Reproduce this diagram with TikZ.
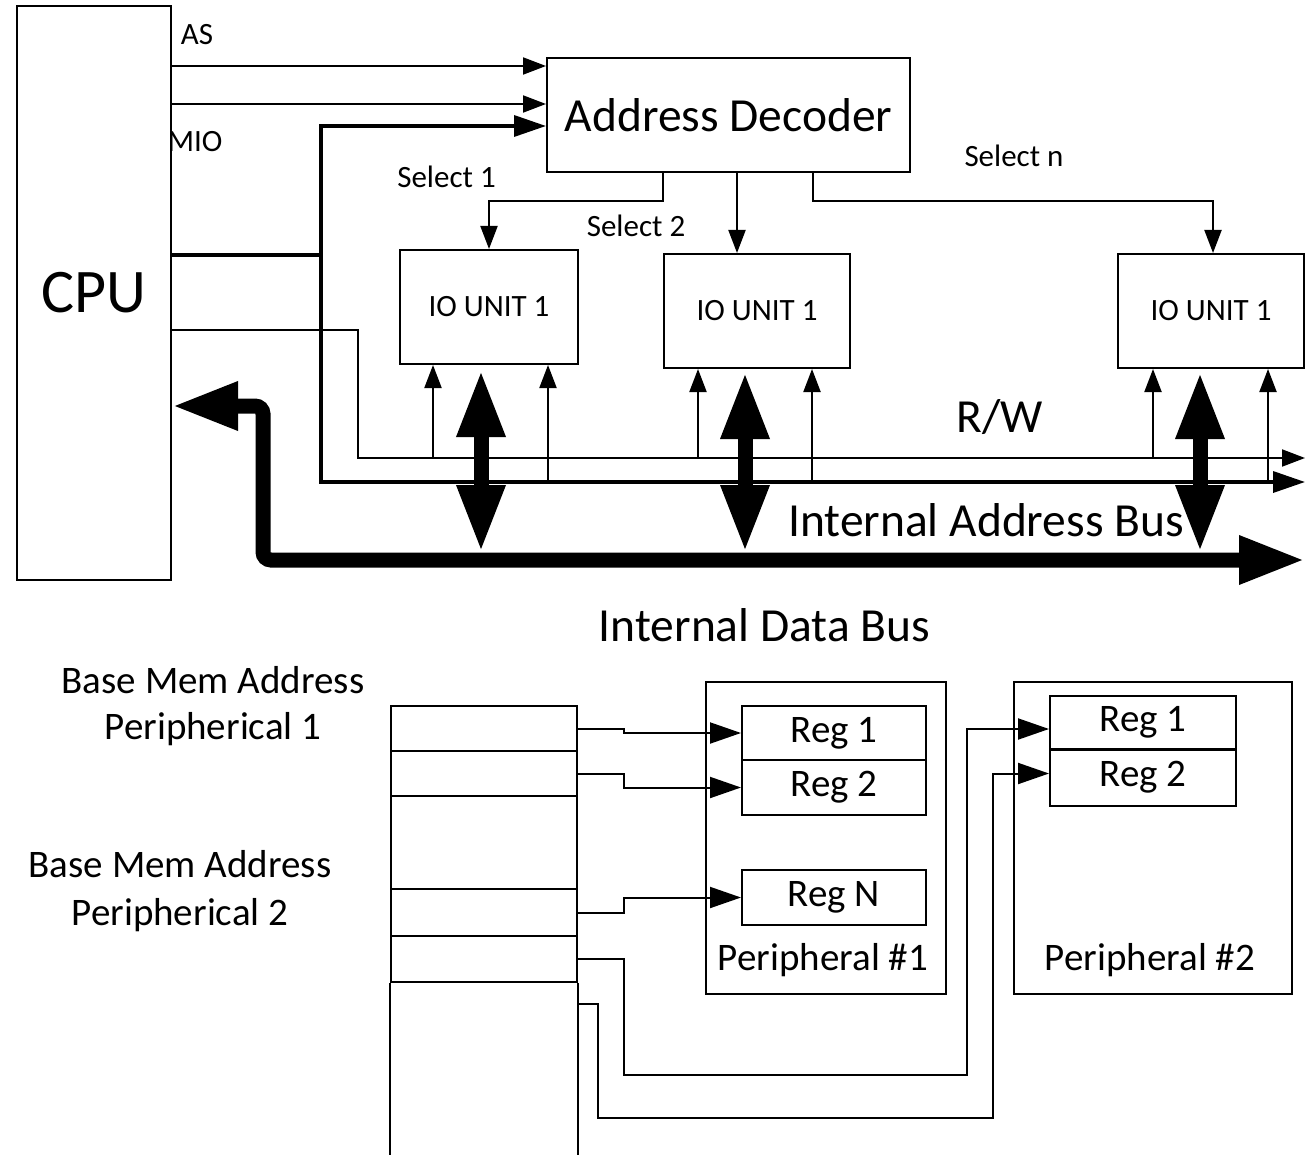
\documentclass[tikz,border=0pt]{standalone}
\usepackage{fontspec}
\setmainfont{Carlito}
\usetikzlibrary{arrows.meta}
\newcommand\fCPU{\fontsize{62}{70}\selectfont}
\newcommand\fLg{\fontsize{47.5}{54}\selectfont}
\newcommand\fSm{\fontsize{31}{36}\selectfont}
\newcommand\fMd{\fontsize{39}{44}\selectfont}
\begin{document}
\begin{tikzpicture}[x=1pt,y=-1pt,
  box/.style={draw, line width=2pt, inner sep=0pt, anchor=center},
  wire/.style={line width=2pt},
  bus/.style={line width=3.5pt},
  sarrow/.style={wire, -{Triangle[length=23pt,width=17pt]}},
  barrow/.style={bus, -{Triangle[length=32pt,width=21pt]}},
  rarrow/.style={wire, -{Triangle[length=31pt,width=21pt]}},
  dbl/.style={line width=15pt, {Triangle[length=67pt,width=45pt]}-{Triangle[length=67pt,width=45pt]}},
  databus/.style={line width=15pt, rounded corners=8pt, {Triangle[length=66pt,width=45pt]}-{Triangle[length=66pt,width=45pt]}},
  lbl/.style={inner sep=0pt, anchor=base}
]
\useasboundingbox (0,0) rectangle (1308,1155);
\fill[white] (0,0) rectangle (1308,1155);

% ---------- upper part ----------
\node[box, minimum width=154pt, minimum height=574pt, font=\fCPU] (cpu) at (94,293) {CPU};
\node[box, minimum width=363pt, minimum height=114pt, font=\fLg] (ad) at (728.5,115) {Address Decoder};
\node[box, minimum width=178pt, minimum height=114pt, font=\fSm] (io1) at (489,307) {IO UNIT 1};
\node[box, minimum width=186pt, minimum height=114pt, font=\fSm] (io2) at (757,311) {IO UNIT 1};
\node[box, minimum width=186pt, minimum height=114pt, font=\fSm] (io3) at (1211,311) {IO UNIT 1};

\node[lbl, font=\fSm] (las) at (197,45) {AS};
\node[lbl, font=\fSm] (lmio) at (195,152) {MIO};
\node[lbl, font=\fSm] (ls1) at (446.5,188) {Select 1};
\node[lbl, font=\fSm] (ls2) at (636,237) {Select 2};
\node[lbl, font=\fSm] (lsn) at (1014,167) {Select n};
\node[lbl, font=\fLg] (lrw) at (1000,432) {R/W};
\node[lbl, font=\fLg] (liab) at (986,536) {Internal Address Bus};
\node[lbl, font=\fLg] (lidb) at (764.5,641) {Internal Data Bus};

% CPU -> decoder
\coordinate (as0) at (171,66);
\coordinate (mio0) at (171,104);
\draw[sarrow] (as0) -- (as0 -| ad.west);
\draw[sarrow] (mio0) -- (mio0 -| ad.west);
\coordinate (ab0) at (171,255);
\coordinate (abj) at (321,255);
\coordinate (abend) at (1305,482);
\draw[bus] (ab0) -- (abj);
\draw[barrow] (abj) |- ([yshift=-11pt]ad.west);
\draw[barrow] (abj) |- (abend);
% R/W line
\coordinate (rw0) at (171,330);
\coordinate (rwend) at (1305,458);
\draw[sarrow] (rw0) -- (358,330) |- (rwend);

% select lines
\draw[sarrow] ([xshift=-65.5pt]ad.south) -- ++(0,28) -| (io1.north);
\draw[sarrow] ([xshift=8.5pt]ad.south) -- ([xshift=-20pt]io2.north);
\draw[sarrow] ([xshift=84.5pt]ad.south) -- ++(0,28) -| ([xshift=2pt]io3.north);

% taps from R/W and address bus
\foreach \n/\a/\b in {io1/433/548, io2/698/812, io3/1153/1268}{
  \draw[sarrow] (\a,458) -- (\a,458 |- \n.south);
  \draw[sarrow] (\b,482) -- (\b,482 |- \n.south);
}

% data bus
\coordinate (dbR) at (1305,560);
\draw[databus] ([yshift=-113pt]cpu.east) -- (263,406) -- (263,560) -- (dbR);

% bidirectional data links
\coordinate (db1) at (481,552);
\coordinate (db2) at (745,552);
\coordinate (db3) at (1200,552);
\draw[dbl] ([xshift=-8pt,yshift=-5pt]io1.south) -- (db1);
\draw[dbl] ([xshift=-12pt,yshift=-3pt]io2.south) -- (db2);
\draw[dbl] ([xshift=-11pt,yshift=-3pt]io3.south) -- (db3);

% ---------- lower part ----------
\node[lbl, font=\fMd] (b1a) at (213,693) {Base Mem Address};
\node[lbl, font=\fMd] (b1b) at (213,739) {Peripherical 1};
\node[lbl, font=\fMd] (b2a) at (180,877) {Base Mem Address};
\node[lbl, font=\fMd] (b2b) at (180,925) {Peripherical 2};

\node[box, minimum width=186pt, minimum height=45pt] (m1) at (484,728.5) {};
\node[box, minimum width=186pt, minimum height=45pt] (m2) at (484,773.5) {};
\node[box, minimum width=186pt, minimum height=93pt] (m3) at (484,842.5) {};
\node[box, minimum width=186pt, minimum height=47pt] (m4) at (484,912.5) {};
\node[box, minimum width=186pt, minimum height=46pt] (m5) at (484,959) {};
\draw[wire] (m5.south west) -- ++(0,190);
\draw[wire] (m5.south east) -- ++(0,190);
\coordinate (m6) at (577,1004);

\node[box, minimum width=240pt, minimum height=312pt] (p1) at (826,838) {};
\node[box, minimum width=278pt, minimum height=312pt] (p2) at (1153,838) {};
\node[box, minimum width=184pt, minimum height=54pt, font=\fMd] (p1r1) at (834,733) {\raisebox{-3pt}{Reg 1}};
\node[box, minimum width=184pt, minimum height=55pt, font=\fMd] (p1r2) at (834,787.5) {\raisebox{-3pt}{Reg 2}};
\node[box, minimum width=184pt, minimum height=55pt, font=\fMd] (p1rn) at (834,897.5) {\raisebox{-3pt}{Reg N}};
\node[box, minimum width=186pt, minimum height=53pt, font=\fMd] (p2r1) at (1143,722.5) {\raisebox{-3pt}{Reg 1}};
\node[box, minimum width=186pt, minimum height=56pt, font=\fMd] (p2r2) at (1143,777.5) {\raisebox{-3pt}{Reg 2}};
\node[lbl, font=\fMd] (lp1) at (823,970) {Peripheral \#1};
\node[lbl, font=\fMd] (lp2) at (1150,970) {Peripheral \#2};

\draw[rarrow] (m1.east) -- ++(46,0) |- (p1r1.west);
\draw[rarrow] (m2.east) -- ++(46,0) |- (p1r2.west);
\draw[rarrow] (m4.east) -- ++(46,0) |- (p1rn.west);
\draw[rarrow] (m5.east) -- ++(46,0) |- (967,1075) |- ([yshift=-6.5pt]p2r1.west);
\draw[rarrow] (m6) -- ++(21,0) |- (993,1118) |- ([yshift=4pt]p2r2.west);
\end{tikzpicture}
\end{document}
